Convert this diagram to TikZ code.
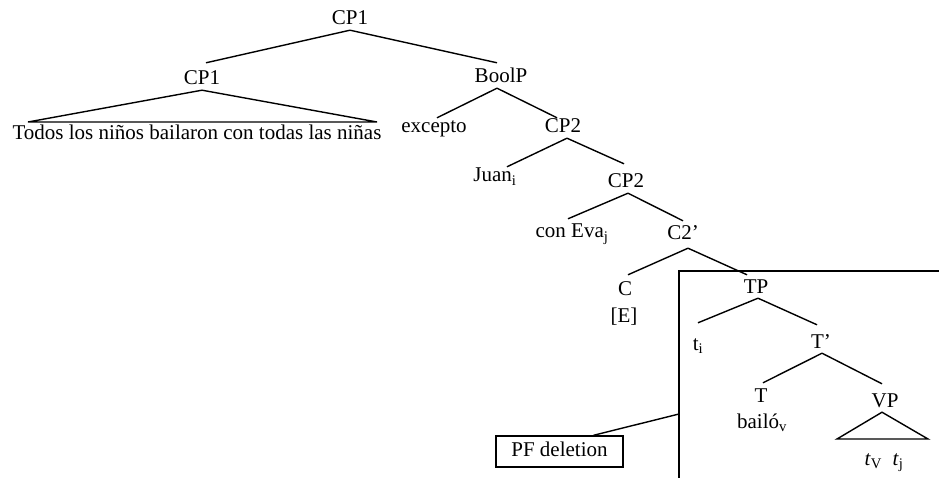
\documentclass[tikz,border=0pt]{standalone}
\usepackage{fontspec}
\setmainfont{Liberation Serif}
\newcommand{\idx}[1]{\textsubscript{#1}}
\tikzset{
	lab/.style={font=\fontsize{21}{25}\selectfont, inner sep=1pt, text height=14pt, text depth=4pt},
	branch/.style={line width=1.4pt},
}
\begin{document}
\begin{tikzpicture}[x=1pt,y=-1pt]
		\clip (0,0) rectangle (939,478);

		% left part
		\node[lab] (cpa) at (350,20){CP1};
		\node[lab] (cpb) at (202,80){CP1};
		\node[lab] (todos) at (197,135){Todos los niños bailaron con todas las niñas};
		\coordinate (ta) at (28,122);
		\coordinate (tb) at (377,122);
		\draw[branch] (cpa.south) -- ([xshift=4,yshift=7]cpb.north);
		\draw[branch] (cpb.south) -- (ta) -- (tb) -- cycle;

		% BoolP and CP2
		\node[lab] (boolp) at (501,78){BoolP};
		\node[lab] (excepto) at (434,128){excepto};
		\node[lab] (cpc) at (563,128){CP2};
		\node[lab] (juan) at (495,177){Juan\idx{i}};
		\node[lab] (cpd) at (626,183){CP2};
		\node[lab] (coneva) at (572,233){con Eva\idx{j}};
		\node[lab] (cbar) at (683,235){C2'};
		\draw[branch] (cpa.south) -- ([xshift=-4,yshift=5]boolp.north);
		\draw[branch] ([xshift=-4]boolp.south) -- ([xshift=3]excepto.north);
		\draw[branch] ([xshift=-4]boolp.south) -- ([xshift=-6]cpc.north);
		\draw[branch] ([xshift=4]cpc.south) -- ([xshift=12]juan.north);
		\draw[branch] ([xshift=4]cpc.south) -- ([xshift=-2,yshift=9]cpd.north);
		\draw[branch] ([xshift=2]cpd.south) -- ([xshift=-4,yshift=4]coneva.north);
		\draw[branch] ([xshift=2]cpd.south) -- ([yshift=4]cbar.north);

		% C and TP
		\node[lab] (c) at (625,290){C};
		\node[lab] (e) at (624,317){[E]};
		\node[lab] (tp) at (756,288){TP};
		\node[lab] (ti) at (698,345){t\idx{i}};
		\node[lab] (tbar) at (821,343){T'};
		\node[lab] (t) at (761,397){T};
		\node[lab] (bailo) at (762,423){bailó\idx{v}};
		\node[lab] (vp) at (885,402){VP};
		\node[lab] (tvtj) at (884,460){\textit{t}\idx{V}\enspace\textit{t}\idx{j}};
		\coordinate (va) at (837,439);
		\coordinate (vb) at (928,439);
		\draw[branch] ([xshift=5,yshift=-3]cbar.south) -- ([xshift=3,yshift=5]c.north);
		\draw[branch] ([xshift=5,yshift=-3]cbar.south) -- ([xshift=-9,yshift=3]tp.north);
		\draw[branch] ([xshift=2]tp.south) -- ([yshift=12]ti.north);
		\draw[branch] ([xshift=2]tp.south) -- ([xshift=-4,yshift=8]tbar.north);
		\draw[branch] ([xshift=1]tbar.south) -- ([xshift=2,yshift=4]t.north);
		\draw[branch] ([xshift=1]tbar.south) -- ([xshift=-3,yshift=8]vp.north);
		\draw[branch] ([xshift=-3]vp.south) -- (va) -- (vb) -- cycle;

		% deletion box
		\draw[line width=1.8pt] (679,500) rectangle (960,271);
		\node[lab, draw, line width=1.4pt, minimum width=127pt, minimum height=31pt] (pf) at (559.5,451.5){PF deletion};
		\coordinate (edge) at (679,414);
		\draw[branch] ([xshift=34]pf.north) -- (edge);
	\end{tikzpicture}
\end{document}
